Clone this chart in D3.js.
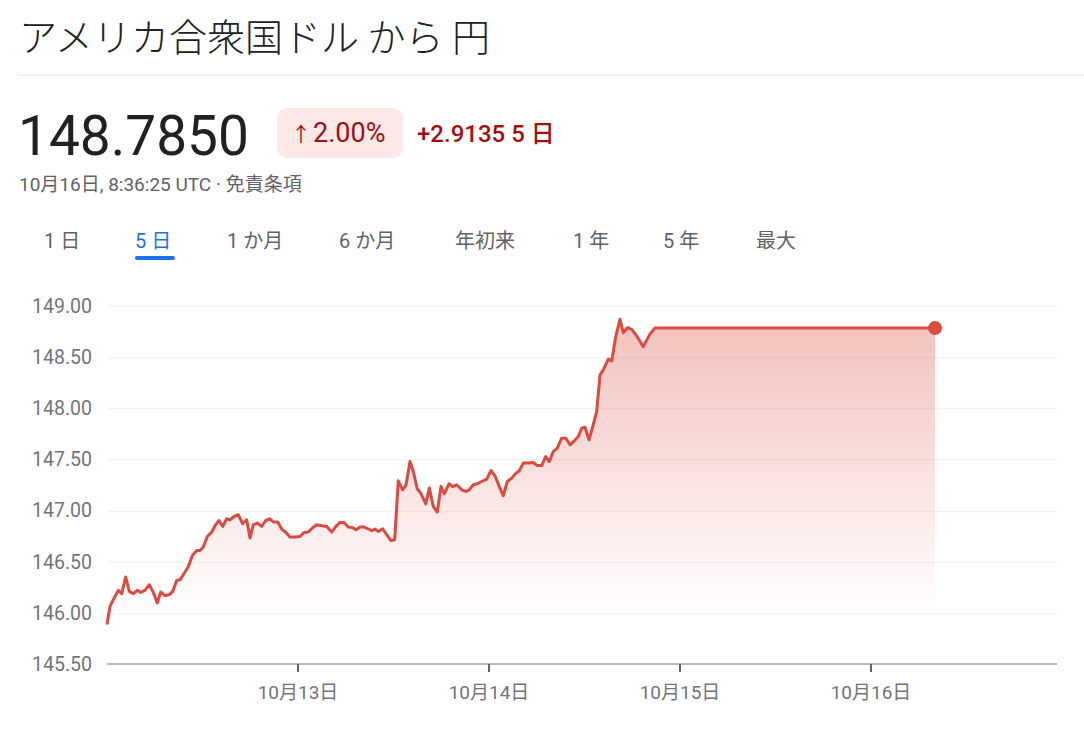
<!DOCTYPE html>
<html><head><meta charset="utf-8">
<script src="https://cdn.jsdelivr.net/npm/d3@7"></script>
<style>body{margin:0;background:#fff;} svg{display:block;}</style>
</head><body><svg id="c" width="1084" height="730"></svg>
<script>
// ---- data ----
const startDay = "2023-10-12";
const hours = [0,0.38,0.79,1.42,1.85,2.35,2.8,3.3,3.81,4.23,4.77,5.32,5.82,6.32,6.75,7.29,7.83,8.26,8.76,9.17,9.68,10.22,10.72,11.27,11.69,12.1,12.6,13.16,13.57,14.07,14.54,15.04,15.45,15.96,16.5,17.05,17.55,17.97,18.38,18.89,19.44,19.94,20.48,20.9,21.45,21.95,22.49,22.99,23.62,24.25,24.75,25.29,25.8,26.35,26.98,27.61,28.23,28.77,29.28,29.78,30.32,30.82,31.29,31.79,32.29,32.83,33.26,33.67,34.09,34.64,35.14,35.65,36.15,36.6,37.15,37.57,38.07,38.49,38.99,39.42,40.05,40.5,41.0,41.5,41.97,42.38,42.97,43.44,43.94,44.57,45.11,45.52,46.03,46.53,47.08,47.71,48.25,48.75,49.29,49.8,50.3,50.85,51.39,51.81,52.31,52.94,53.57,54.07,54.62,55.12,55.58,56.08,56.58,57.13,57.64,58.18,58.72,59.22,59.65,60.06,60.57,61.03,61.53,61.95,62.36,62.99,63.42,63.92,64.46,64.87,65.38,65.93,66.56,67.39,68.23,68.86,104.04];
const values = [145.885,146.063,146.129,146.22,146.188,146.351,146.21,146.188,146.22,146.2,146.22,146.275,146.2,146.097,146.204,146.168,146.178,146.21,146.317,146.324,146.383,146.454,146.559,146.61,146.61,146.644,146.747,146.79,146.852,146.903,146.845,146.92,146.91,146.942,146.959,146.871,146.91,146.731,146.861,146.878,146.845,146.903,146.92,146.888,146.888,146.819,146.786,146.741,146.741,146.747,146.786,146.79,146.829,146.861,146.852,146.845,146.79,146.845,146.884,146.884,146.839,146.835,146.813,146.839,146.839,146.822,146.803,146.819,146.796,146.822,146.764,146.708,146.715,147.291,147.203,147.249,147.479,147.382,147.21,147.171,147.066,147.22,147.04,146.985,147.235,147.164,147.262,147.235,147.252,147.203,147.187,147.203,147.252,147.262,147.284,147.308,147.392,147.34,147.235,147.145,147.284,147.317,147.366,147.389,147.464,147.464,147.47,147.44,147.44,147.528,147.479,147.577,147.61,147.708,147.708,147.643,147.682,147.724,147.806,147.815,147.691,147.821,147.968,148.326,148.375,148.48,148.463,148.7,148.87,148.739,148.788,148.772,148.707,148.603,148.727,148.785,148.785];
const yTicks = [145.5,146.0,146.5,147.0,147.5,148.0,148.5,149.0];
const xTickDays = ["2023-10-13","2023-10-14","2023-10-15","2023-10-16"];
const tabs = ["1 日","5 日","1 か月","6 か月","年初来","1 年","5 年","最大"];
const title = "アメリカ合衆国ドル から 円";
const price = "148.7850";
const pct = "2.00%";
const change = "+2.9135 5 日";
const stamp = "10月16日, 8:36:25 UTC · 免責条項";

// ---- setup ----
const svg = d3.select("#c");
const RED = "#db4b3e";
const t0 = new Date(startDay + "T00:00:00Z");
const pts = hours.map((h,i)=>({t:new Date(t0.getTime()+h*3600e3), v:values[i]}));

const x = d3.scaleUtc().domain([t0, d3.utcDay.offset(t0,5)]).range([107,1062]);
const y = d3.scaleLinear().domain([145.5,149]).range([664,306]);

// header
svg.append("text").attr("x",19).attr("y",51).text(title)
  .attr("font-family","'Noto Sans CJK JP',sans-serif").attr("font-size",38).attr("font-weight",300).attr("fill","#202124");
svg.append("line").attr("x1",20).attr("x2",1084).attr("y1",75.5).attr("y2",75.5).attr("stroke","#e8eaed");

svg.append("text").attr("x",18).attr("y",155).text(price)
  .attr("font-family","Roboto,sans-serif").attr("font-size",55).attr("fill","#202124");

svg.append("rect").attr("x",277).attr("y",108).attr("width",126).attr("height",50).attr("rx",11).attr("fill","#fce8e6");
svg.append("text").attr("x",291).attr("y",142).text("↑")
  .attr("font-family","'Noto Sans CJK JP',sans-serif").attr("font-size",20).attr("fill","#a50e0e");
svg.append("text").attr("x",313).attr("y",142).text(pct)
  .attr("font-family","Roboto,sans-serif").attr("font-size",27).attr("fill","#a50e0e");
svg.append("text").attr("x",417).attr("y",142).text(change)
  .attr("font-family","Roboto,'Noto Sans CJK JP',sans-serif").attr("font-size",24).attr("font-weight",500).attr("fill","#a50e0e");

svg.append("text").attr("x",19).attr("y",191).text(stamp)
  .attr("font-family","Roboto,'Noto Sans CJK JP',sans-serif").attr("font-size",19).attr("fill","#5f6368");

const tabX = [44,135,227,339,455,573,663,756];
tabs.forEach((t,i)=>{
  svg.append("text").attr("x",tabX[i]).attr("y",248).text(t)
    .attr("font-family","Roboto,'Noto Sans CJK JP',sans-serif").attr("font-size",20).attr("font-weight",400)
    .attr("fill", i===1 ? "#1a73e8" : "#5f6368");
});
svg.append("rect").attr("x",135).attr("y",256).attr("width",40).attr("height",4).attr("rx",2).attr("fill","#1a73e8");

// grid
const g = svg.append("g");
g.selectAll("line.grid").data(yTicks.filter(d=>d>145.5)).join("line")
  .attr("x1",107).attr("x2",1057).attr("y1",d=>Math.round(y(d))+0.5).attr("y2",d=>Math.round(y(d))+0.5)
  .attr("stroke","#f1f3f4").attr("stroke-width",1.5);
g.selectAll("text.yl").data(yTicks).join("text")
  .attr("x",92).attr("y",d=>y(d)).attr("dy","0.35em").attr("text-anchor","end")
  .attr("font-family","Roboto,sans-serif").attr("font-size",19.5).attr("fill","#70757a")
  .text(d=>d.toFixed(2));

// area
const defs = svg.append("defs");
const grad = defs.append("linearGradient").attr("id","gr").attr("gradientUnits","userSpaceOnUse")
  .attr("x1",0).attr("x2",0).attr("y1",y(149)).attr("y2",y(146));
grad.append("stop").attr("offset",0).attr("stop-color",RED).attr("stop-opacity",0.36);
grad.append("stop").attr("offset",1).attr("stop-color",RED).attr("stop-opacity",0);
svg.append("path").datum(pts)
  .attr("d", d3.area().x(d=>x(d.t)).y0(y(145.5)).y1(d=>y(d.v)))
  .attr("fill","url(#gr)");

// x axis
const xa = svg.append("g").attr("transform","translate(0,664)");
xa.append("line").attr("x1",107).attr("x2",1057).attr("stroke","#9aa0a6").attr("stroke-width",1.5);
const xt = xTickDays.map(s=>new Date(s+"T00:00:00Z"));
xa.selectAll("line.tk").data(xt).join("line")
  .attr("x1",d=>x(d)).attr("x2",d=>x(d)).attr("y1",0).attr("y2",8)
  .attr("stroke","#5f6368").attr("stroke-width",2);
xa.selectAll("text").data(xt).join("text")
  .attr("x",d=>x(d)).attr("y",35).attr("text-anchor","middle")
  .attr("font-family","Roboto,'Noto Sans CJK JP',sans-serif").attr("font-size",19).attr("fill","#70757a")
  .text(d3.utcFormat("%-m月%-d日"));

// line
svg.append("path").datum(pts)
  .attr("d", d3.line().x(d=>x(d.t)).y(d=>y(d.v)))
  .attr("fill","none").attr("stroke",RED).attr("stroke-width",3).attr("stroke-linejoin","round");
const last = pts[pts.length-1];
svg.append("circle").attr("cx",x(last.t)).attr("cy",y(last.v)).attr("r",7).attr("fill",RED);
</script></body></html>
